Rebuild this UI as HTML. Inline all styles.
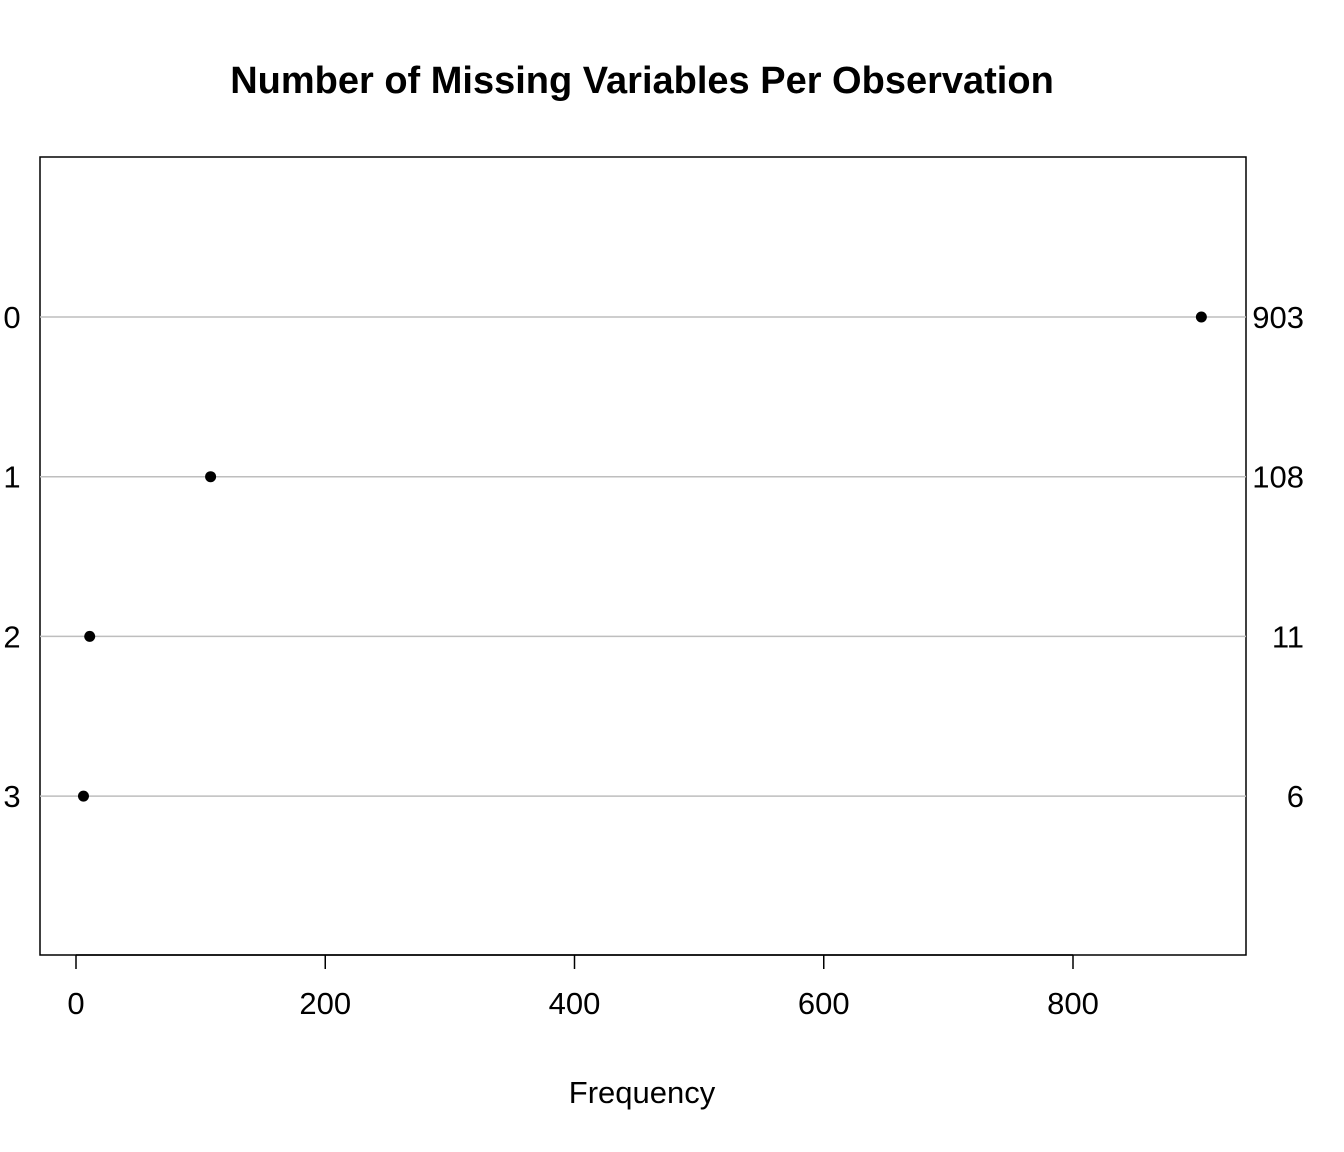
<!DOCTYPE html>
<html><head><meta charset="utf-8"><style>
html,body{margin:0;padding:0;background:#fff}
svg{display:block;font-family:"Liberation Sans",Arial,sans-serif}
</style></head><body>
<svg id="chart" width="1344" height="1152">
<text x="642" y="93" text-anchor="middle" font-size="38" font-weight="bold">Number of Missing Variables Per Observation</text>
<rect x="40" y="157" width="1206" height="798" fill="none" stroke="#000" stroke-width="1.5"/>
<g id="rows"></g>
<g id="xaxis"></g>
<text x="642" y="1103" text-anchor="middle" font-size="31">Frequency</text>
</svg>
<script>
const categories = ["0","1","2","3"];
const values = [903,108,11,6];
const labels = ["903","108","11","6"];
const xTicks = [0,200,400,600,800];
const ns="http://www.w3.org/2000/svg";
function xs(v){return 76+v*(1073-76)/800;}
function ys(i){return 317+i*159.7;}
const rows=document.getElementById('rows');
categories.forEach((c,i)=>{
  const y=ys(i);
  const l=document.createElementNS(ns,'line');
  l.setAttribute('x1',40);l.setAttribute('x2',1246);l.setAttribute('y1',y);l.setAttribute('y2',y);
  l.setAttribute('stroke','#bebebe');l.setAttribute('stroke-width','1.5');
  
  
  rows.appendChild(l);
  const t=document.createElementNS(ns,'text');
  t.setAttribute('x',12);t.setAttribute('y',y+11);t.setAttribute('text-anchor','middle');t.setAttribute('font-size','31');
  t.textContent=c;
  
  
  rows.appendChild(t);
  const r=document.createElementNS(ns,'text');
  r.setAttribute('x',1304);r.setAttribute('y',y+11);r.setAttribute('text-anchor','end');r.setAttribute('font-size','31');
  r.textContent=labels[i];
  
  
  rows.appendChild(r);
  const p=document.createElementNS(ns,'circle');
  p.setAttribute('cx',xs(values[i]));p.setAttribute('cy',y);p.setAttribute('r',5.5);p.setAttribute('fill','#000');
  
  
  rows.appendChild(p);
});
const xa=document.getElementById('xaxis');
const ax=document.createElementNS(ns,'line');
ax.setAttribute('x1',xs(xTicks[0]));ax.setAttribute('x2',xs(xTicks[xTicks.length-1]));ax.setAttribute('y1',955);ax.setAttribute('y2',955);ax.setAttribute('stroke','#000');ax.setAttribute('stroke-width','1.5');


xa.appendChild(ax);
xTicks.forEach(v=>{
  const x=xs(v);
  const tk=document.createElementNS(ns,'line');
  tk.setAttribute('x1',x);tk.setAttribute('x2',x);tk.setAttribute('y1',955);tk.setAttribute('y2',969);tk.setAttribute('stroke','#000');tk.setAttribute('stroke-width','1.5');
  
  
  xa.appendChild(tk);
  const t=document.createElementNS(ns,'text');
  t.setAttribute('x',x);t.setAttribute('y',1014);t.setAttribute('text-anchor','middle');t.setAttribute('font-size','31');
  t.textContent=v;
  
  
  xa.appendChild(t);
});
</script>
</body></html>
